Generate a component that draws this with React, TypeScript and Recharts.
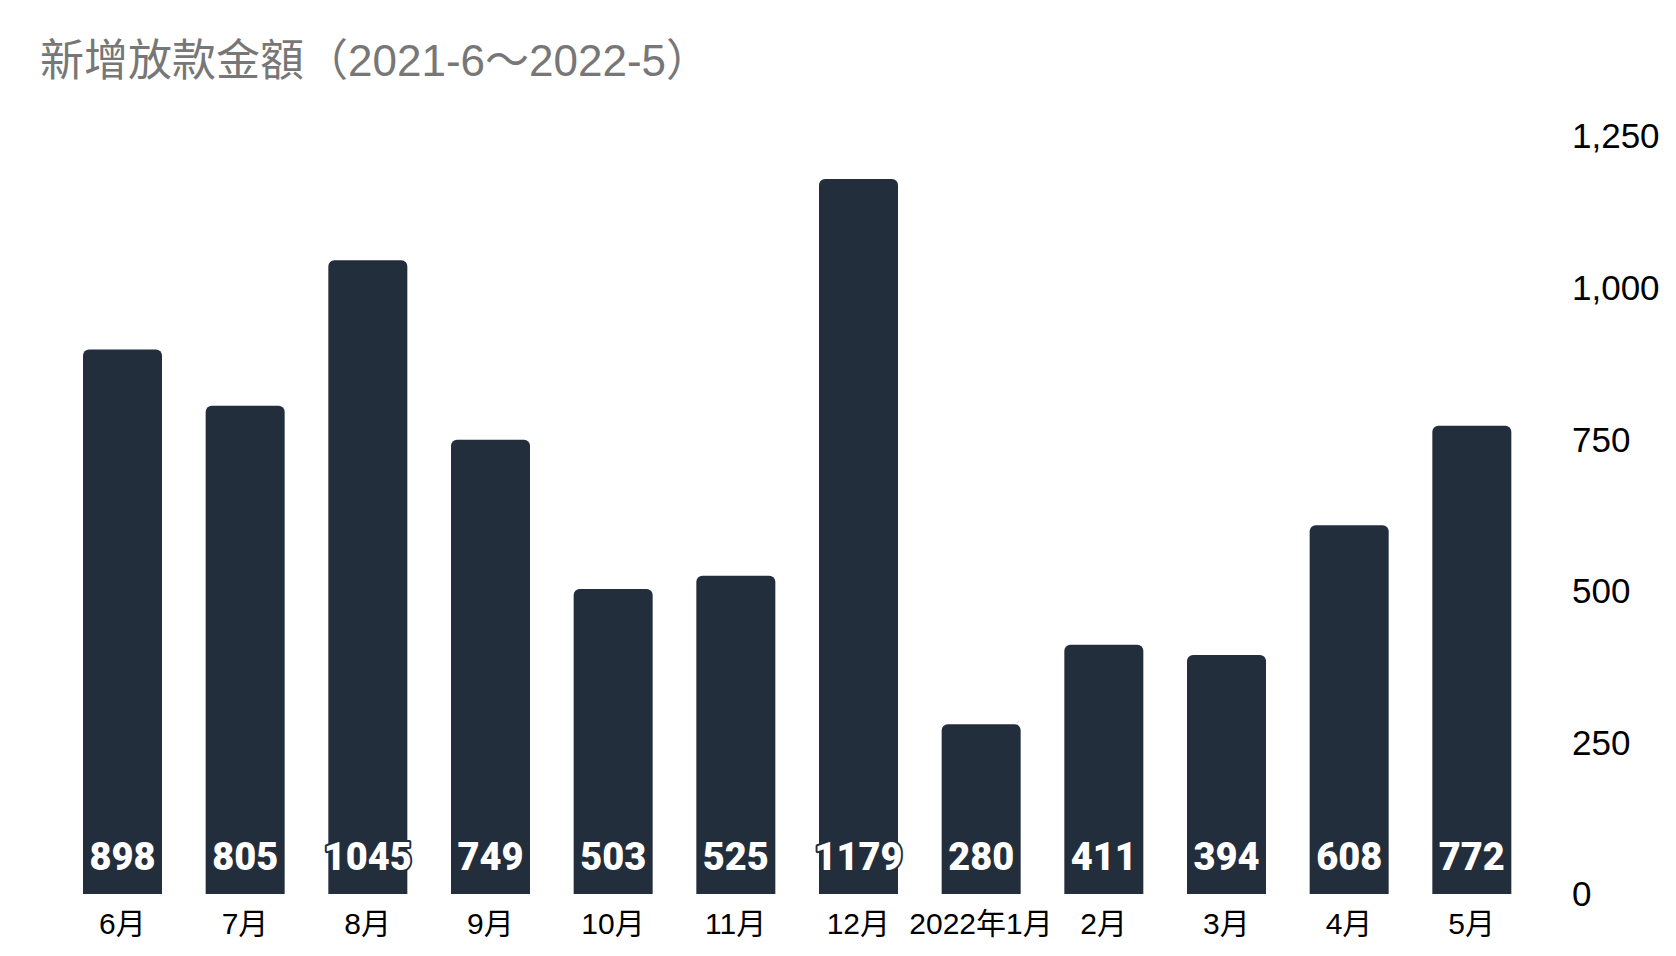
import React from "react";
import { Bar, BarChart, LabelList, XAxis, YAxis } from "recharts";

const months = ["6月", "7月", "8月", "9月", "10月", "11月", "12月", "2022年1月", "2月", "3月", "4月", "5月"];
const amounts = [898, 805, 1045, 749, 503, 525, 1179, 280, 411, 394, 608, 772];
const yTicks = [0, 250, 500, 750, 1000, 1250];

const data = months.map((month, i) => ({ month, amount: amounts[i] }));

const BAR_COLOR = "#232e3c";

function BottomLabel(props: any) {
  const { x, y, width, height, value } = props;
  return (
    <text
      x={x + width / 2}
      y={y + height - 24}
      textAnchor="middle"
      fill="#fff"
      stroke={BAR_COLOR}
      strokeWidth={4}
      paintOrder="stroke"
      strokeLinejoin="round"
      style={{ fontFamily: "Roboto", fontWeight: 900, fontSize: 38 }}
    >
      {value}
    </text>
  );
}

export default function App() {
  return (
    <div style={{ position: "relative", width: 1660, height: 940, background: "#fff" }}>
      <div
        style={{
          position: "absolute",
          left: 32,
          top: 31,
          fontFamily: '"Liberation Sans", "Noto Sans CJK TC", sans-serif',
          fontSize: 44,
          lineHeight: "44px",
          color: "#777",
          whiteSpace: "nowrap",
        }}
      >
        新增放款金額（2021-6～2022-5）
      </div>
      <BarChart
        width={1660}
        height={940}
        data={data}
        margin={{ top: 128, right: 35, bottom: 4, left: 53 }}
      >
        <XAxis
          dataKey="month"
          interval={0}
          axisLine={false}
          tickLine={false}
          tickMargin={13}
          height={50}
          tick={{ fill: "#000", fontSize: 30, fontFamily: '"Liberation Sans", "Noto Sans CJK TC", sans-serif' }}
        />
        <YAxis
          orientation="right"
          domain={[0, 1250]}
          ticks={yTicks}
          axisLine={false}
          tickLine={false}
          tickMargin={33}
          width={100}
          tickFormatter={(v: number) => v.toLocaleString("en-US")}
          tick={{ fill: "#000", fontSize: 35, fontFamily: '"Liberation Sans", Arial, sans-serif', textAnchor: "start" }}
        />
        <Bar dataKey="amount" fill={BAR_COLOR} barSize={79} radius={[6, 6, 0, 0]} isAnimationActive={false}>
          <LabelList dataKey="amount" content={BottomLabel} />
        </Bar>
      </BarChart>
    </div>
  );
}
